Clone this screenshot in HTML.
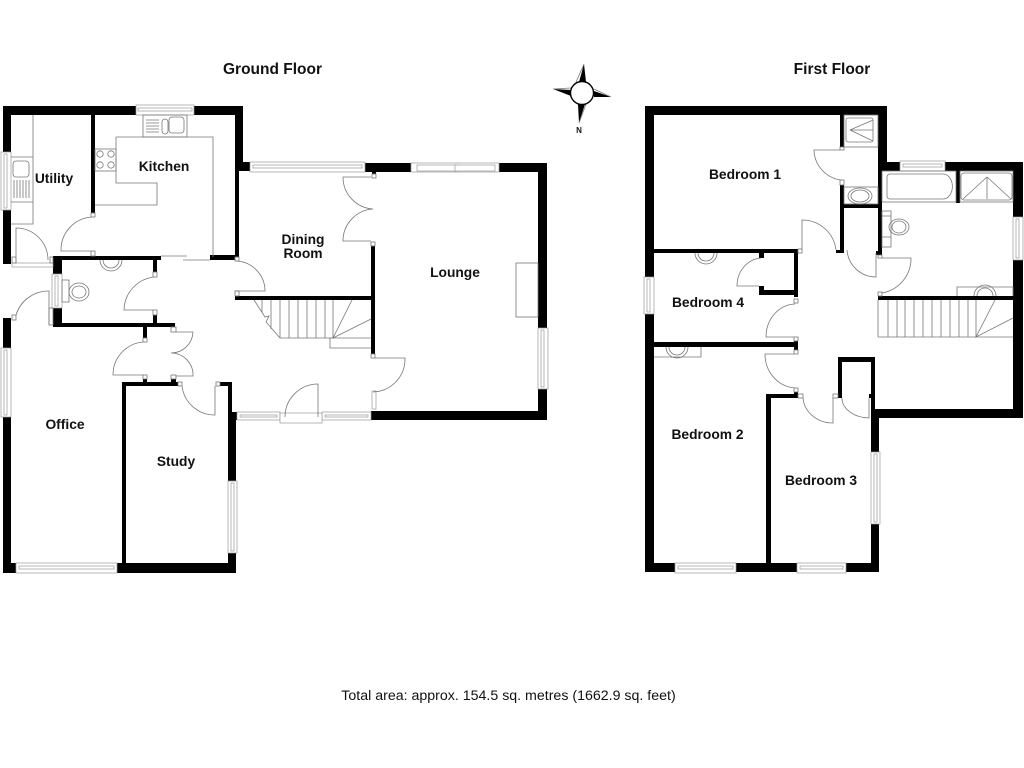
<!DOCTYPE html>
<html><head><meta charset="utf-8"><title>Floor plan</title>
<style>
html,body{margin:0;padding:0;background:#fff;width:1024px;height:768px;overflow:hidden}
svg{display:block}
text{font-family:"Liberation Sans",Arial,sans-serif;font-weight:bold;fill:#111;font-size:13.8px;text-anchor:middle}
.w{fill:#000;stroke:none}
.l{fill:none;stroke:#777;stroke-width:.8}
.win{fill:#fff;stroke:#999;stroke-width:.7}
.j{fill:#fff;stroke:#777;stroke-width:.8}
</style></head><body>
<svg width="1024" height="768" viewBox="0 0 1024 768" xmlns="http://www.w3.org/2000/svg">
<rect width="1024" height="768" fill="#fff"/>
<!-- GROUND FLOOR WALLS -->
<g class="w">
<rect x="3" y="106" width="133" height="9"/><rect x="194" y="106" width="49" height="9"/>
<rect x="3" y="106" width="8" height="46"/><rect x="3" y="210" width="8" height="54"/>
<rect x="91" y="115" width="4" height="102"/>
<rect x="235" y="106" width="8" height="65"/><rect x="235" y="171" width="4" height="90"/>
<rect x="239" y="162" width="11" height="9"/>
<rect x="53" y="256" width="108" height="4"/><rect x="210" y="255" width="25" height="5"/>
<rect x="53" y="256" width="9" height="18"/><rect x="53" y="308" width="9" height="19"/>
<rect x="53" y="323" width="122" height="4"/>
<rect x="153" y="260" width="4" height="12"/><rect x="153" y="315" width="4" height="8"/>
<rect x="143" y="327" width="4" height="11"/>
<rect x="3" y="318" width="8" height="30"/><rect x="3" y="417" width="8" height="156"/>
<rect x="3" y="563" width="13" height="10"/><rect x="117" y="563" width="119" height="10"/>
<rect x="122" y="382" width="4" height="181"/><rect x="122" y="382" width="56" height="4"/>
<rect x="143" y="379" width="4" height="3"/><rect x="171" y="379" width="5" height="3"/>
<rect x="220" y="382" width="12" height="4"/><rect x="228" y="382" width="4" height="30"/>
<rect x="228" y="412" width="8" height="69"/><rect x="228" y="553" width="8" height="20"/>
<rect x="365" y="163" width="46" height="9"/><rect x="499" y="163" width="48" height="9"/>
<rect x="538" y="163" width="9" height="165"/><rect x="538" y="389" width="9" height="31"/>
<rect x="371" y="411" width="176" height="9"/>
<rect x="371" y="246" width="4" height="108"/><rect x="372" y="172" width="4" height="3"/>
<rect x="235" y="296" width="140" height="4"/>
<rect x="230" y="412" width="7" height="8"/>
</g>
<!-- FIRST FLOOR WALLS -->
<g class="w">
<rect x="645" y="106" width="242" height="9"/>
<rect x="645" y="106" width="9" height="171"/><rect x="645" y="314" width="9" height="258"/>
<rect x="645" y="563" width="30" height="9"/><rect x="736" y="563" width="61" height="9"/><rect x="846" y="563" width="33" height="9"/>
<rect x="871" y="409" width="8" height="43"/><rect x="871" y="524" width="8" height="48"/>
<rect x="871" y="409" width="152" height="9"/>
<rect x="1013" y="162" width="10" height="55"/><rect x="1013" y="260" width="10" height="158"/>
<rect x="887" y="162" width="13" height="9"/><rect x="945" y="162" width="78" height="9"/>
<rect x="878" y="106" width="9" height="65"/><rect x="878" y="171" width="4" height="84"/>
<rect x="840" y="115" width="4" height="32"/><rect x="840" y="185" width="4" height="68"/>
<rect x="840" y="204" width="42" height="4"/><rect x="836" y="250" width="8" height="3"/>
<rect x="876" y="251" width="6" height="4"/>
<rect x="956" y="171" width="4" height="32"/>
<rect x="654" y="249" width="144" height="4"/><rect x="794" y="249" width="4" height="48"/>
<rect x="759" y="290" width="39" height="5"/><rect x="759" y="253" width="5" height="5"/><rect x="759" y="286" width="5" height="9"/>
<rect x="878" y="296" width="135" height="4"/>
<rect x="654" y="342" width="144" height="5"/><rect x="794" y="340" width="4" height="10"/>
<rect x="794" y="392" width="4" height="6"/><rect x="766" y="394" width="32" height="4"/>
<rect x="766" y="394" width="5" height="169"/>
<rect x="838" y="357" width="4" height="41"/><rect x="838" y="357" width="37" height="5"/><rect x="871" y="357" width="4" height="52"/>
<rect x="869" y="394" width="2" height="4"/>
</g>
<!-- WINDOWS -->
<g>
<g class="win">
<rect x="136" y="105" width="58" height="10"/><rect x="138" y="108" width="54" height="3"/>
<rect x="1" y="152" width="10" height="58"/><rect x="4" y="154" width="3" height="54"/>
<rect x="52" y="274" width="10" height="34"/><rect x="55" y="276" width="3" height="30"/>
<rect x="1" y="348" width="10" height="69"/><rect x="4" y="350" width="3" height="65"/>
<rect x="16" y="563" width="101" height="10"/><rect x="19" y="566" width="95" height="3"/>
<rect x="228" y="481" width="9" height="72"/><rect x="231" y="483" width="3" height="68"/>
<rect x="250" y="162" width="115" height="10"/><rect x="253" y="165" width="109" height="3"/>
<rect x="411" y="163" width="88" height="9"/><rect x="417" y="165" width="40" height="6"/><rect x="455" y="165" width="40" height="6"/>
<rect x="538" y="328" width="10" height="61"/><rect x="541" y="330" width="3" height="57"/>
<rect x="237" y="412" width="43" height="8"/><rect x="240" y="415" width="37" height="2"/>
<rect x="322" y="412" width="49" height="8"/><rect x="325" y="415" width="43" height="2"/>
<rect x="280" y="413" width="42" height="10"/>
<rect x="12" y="263" width="41" height="4"/>
<rect x="372" y="391" width="4" height="18"/>
<rect x="644" y="277" width="10" height="37"/><rect x="647" y="279" width="3" height="33"/>
<rect x="675" y="563" width="61" height="10"/><rect x="678" y="566" width="55" height="3"/>
<rect x="797" y="563" width="49" height="10"/><rect x="800" y="566" width="43" height="3"/>
<rect x="871" y="452" width="9" height="72"/><rect x="874" y="454" width="3" height="68"/>
<rect x="900" y="161" width="45" height="10"/><rect x="903" y="164" width="39" height="3"/>
<rect x="1013" y="217" width="10" height="43"/><rect x="1016" y="219" width="3" height="39"/>
</g>
</g>
<!-- JAMBS -->
<g class="j">
<rect x="91" y="213" width="4" height="4"/><rect x="91" y="251" width="4" height="5"/>
<rect x="12" y="257" width="4" height="6"/><rect x="50" y="257" width="3" height="6"/>
<rect x="153" y="272" width="4" height="5"/><rect x="153" y="310" width="4" height="5"/>
<rect x="143" y="338" width="4" height="4"/><rect x="143" y="375" width="4" height="4"/>
<rect x="171" y="327" width="5" height="5"/><rect x="171" y="375" width="5" height="4"/>
<rect x="12" y="315" width="4" height="5"/><rect x="49" y="308" width="4" height="17"/>
<rect x="178" y="382" width="4" height="4"/><rect x="216" y="382" width="4" height="4"/>
<rect x="235" y="257" width="4" height="4"/><rect x="235" y="291" width="4" height="5"/>
<rect x="372" y="174" width="4" height="4"/><rect x="371" y="242" width="4" height="4"/>
<rect x="371" y="354" width="4" height="4"/>
<rect x="840" y="147" width="4" height="3"/><rect x="840" y="180" width="4" height="5"/>
<rect x="798" y="249" width="4" height="4"/><rect x="794" y="299" width="4" height="4"/><rect x="794" y="350" width="4" height="4"/>
<rect x="794" y="337" width="4" height="4"/><rect x="794" y="388" width="4" height="4"/>
<rect x="878" y="255" width="4" height="3"/><rect x="878" y="292" width="4" height="4"/>
<rect x="798" y="394" width="5" height="4"/><rect x="833" y="394" width="5" height="4"/>
</g>
<!-- LINES GROUND -->
<g class="l">
<path d="M33 115V224H11M11 157H33M11 202H33"/>
<rect x="13" y="161" width="16" height="16" rx="3"/>
<path d="M14 180V198M17 180V198M20 180V198M23 180V198M26 180V198M29 180V198"/>
<path d="M16 263V228A32 32 0 0 1 48 260"/>
<path d="M92 217A33 33 0 0 0 61 251H91"/>
<rect x="143" y="115" width="44" height="22"/>
<path d="M146 120H159M146 123H159M146 126H159M146 129H159M146 132H159"/>
<rect x="162" y="119" width="6" height="15" rx="3"/><rect x="169" y="117" width="15" height="16" rx="3"/>
<path d="M116 137H213V257M116 137V183H157V205H95"/>
<rect x="95" y="149" width="21" height="22"/>
<circle cx="100" cy="154" r="3.2"/><circle cx="111" cy="154" r="3.2"/><circle cx="100" cy="165" r="3.2"/><circle cx="111" cy="165" r="3.2"/>
<path d="M161 256H187M183 260H210"/>
<path d="M100 260A11 11 0 0 0 122 260M103 260A8 8 0 0 0 119 260"/>
<rect x="62" y="280" width="7" height="22"/><ellipse cx="79" cy="292" rx="10" ry="9"/><ellipse cx="79" cy="292" rx="7" ry="6"/>
<path d="M49 325V291A34 34 0 0 0 16 315"/>
<path d="M153 310H124A34 34 0 0 1 154 277"/>
<path d="M143 375H113A33 33 0 0 1 143 342"/>
<path d="M176 332H193A22 22 0 0 1 171 353A22 22 0 0 1 193 376H176"/>
<path d="M182 386A33 33 0 0 0 215 415V386"/>
<path d="M235 291H265A30 30 0 0 0 235 261"/>
<path d="M371 177H343A32 32 0 0 0 373 209A32 32 0 0 0 343 241H371"/>
<path d="M375 358H405A33 33 0 0 1 373 392"/>
<path d="M318 417V384A33 33 0 0 0 285 417"/>
<path d="M254 300L265 317L269 316L266 322L280 338H333L352 300M333 338L371 319"/>
<path d="M262 300V312M271 300V329M280 300V338M289 300V338M298 300V338M307 300V338M316 300V338M325 300V338M333 300V338"/>
<path d="M330 338V348H371M330 338H371"/>
<rect x="516" y="263" width="22" height="54"/>
</g>
<!-- LINES FIRST -->
<g class="l">
<rect x="844" y="115" width="34" height="32"/><rect x="846" y="118" width="27" height="24" rx="2"/>
<path d="M850 130L873 120M850 130H873M850 130L873 141"/>
<path d="M840 150H814A31 31 0 0 0 841 180"/>
<rect x="844" y="187" width="34" height="17"/><ellipse cx="860" cy="196" rx="12" ry="8"/><ellipse cx="860" cy="196" rx="9" ry="6"/>
<path d="M802 249V220A34 34 0 0 1 836 250"/>
<path d="M847 250A29 29 0 0 0 876 277V253"/>
<path d="M882 258H911A35 35 0 0 1 882 293"/>
<rect x="882" y="171" width="74" height="31"/><path d="M890 174H943A9 12 0 0 1 943 199H890A3 3 0 0 1 887 196V177A3 3 0 0 1 890 174Z"/>
<rect x="960" y="171" width="53" height="31"/><rect x="961" y="173" width="51" height="27" rx="3"/>
<path d="M987 177L963 199M987 177V199M987 177L1011 199"/>
<rect x="882" y="211" width="9" height="36"/><path d="M882 216H891M882 237H891"/><ellipse cx="899" cy="227" rx="10" ry="8"/><ellipse cx="899" cy="227" rx="7" ry="6"/>
<path d="M957 296V287H1013V296"/><path d="M974 296A11 11 0 0 1 996 296M977 296A8 8 0 0 1 993 296"/>
<path d="M888 300V337M897 300V337M905 300V337M914 300V337M923 300V337M932 300V337M941 300V337M950 300V337M959 300V337M968 300V337M976 300V337"/>
<path d="M878 337H1013M878 300V337M995 300L976 337L1013 318"/>
<path d="M695 253A11 11 0 0 0 717 253M698 253A8 8 0 0 0 714 253"/>
<path d="M759 286H737A26 28 0 0 1 761 258"/>
<path d="M794 337H766A30 33 0 0 1 795 304"/>
<path d="M794 354H765A32 34 0 0 0 795 388"/>
<path d="M654 357H701V347M666 347A11 11 0 0 0 688 347M669 347A8 8 0 0 0 685 347"/>
<path d="M803 398A30 27 0 0 0 833 423V398"/>
<path d="M842 398A28 20 0 0 0 869 418V398"/>
</g>
<!-- COMPASS -->
<g>
<path d="M579 82L584 64L586 82Z" fill="#000"/><path d="M576 82L584 64" stroke="#777" fill="none" stroke-width=".8"/>
<path d="M594 91L611 97L594 97Z" fill="#000"/><path d="M594 89L611 97" stroke="#777" fill="none" stroke-width=".8"/>
<path d="M578 104L579 123L585 104Z" fill="#000"/><path d="M586 104L579 123" stroke="#777" fill="none" stroke-width=".8"/>
<path d="M571 90L553 89L571 96Z" fill="#000"/><path d="M571 88L553 89" stroke="#777" fill="none" stroke-width=".8"/>
<circle cx="582" cy="93" r="11.5" fill="#fff" stroke="#000" stroke-width="1.4"/>
<text x="579" y="133" style="font-size:8px">N</text>
</g>
<!-- TEXT -->
<text x="272.5" y="74" style="font-size:15.5px">Ground Floor</text>
<text x="832" y="74" style="font-size:15.5px">First Floor</text>
<text x="54" y="183">Utility</text>
<text x="164" y="171">Kitchen</text>
<text x="303" y="244">Dining</text>
<text x="303" y="258">Room</text>
<text x="455" y="277">Lounge</text>
<text x="65" y="429">Office</text>
<text x="176" y="466">Study</text>
<text x="745" y="179">Bedroom 1</text>
<text x="708" y="307">Bedroom 4</text>
<text x="707.5" y="439">Bedroom 2</text>
<text x="821" y="485">Bedroom 3</text>
<text x="508.5" y="700" style="font-size:14.2px;font-weight:normal">Total area: approx. 154.5 sq. metres (1662.9 sq. feet)</text>
</svg>
</body></html>
